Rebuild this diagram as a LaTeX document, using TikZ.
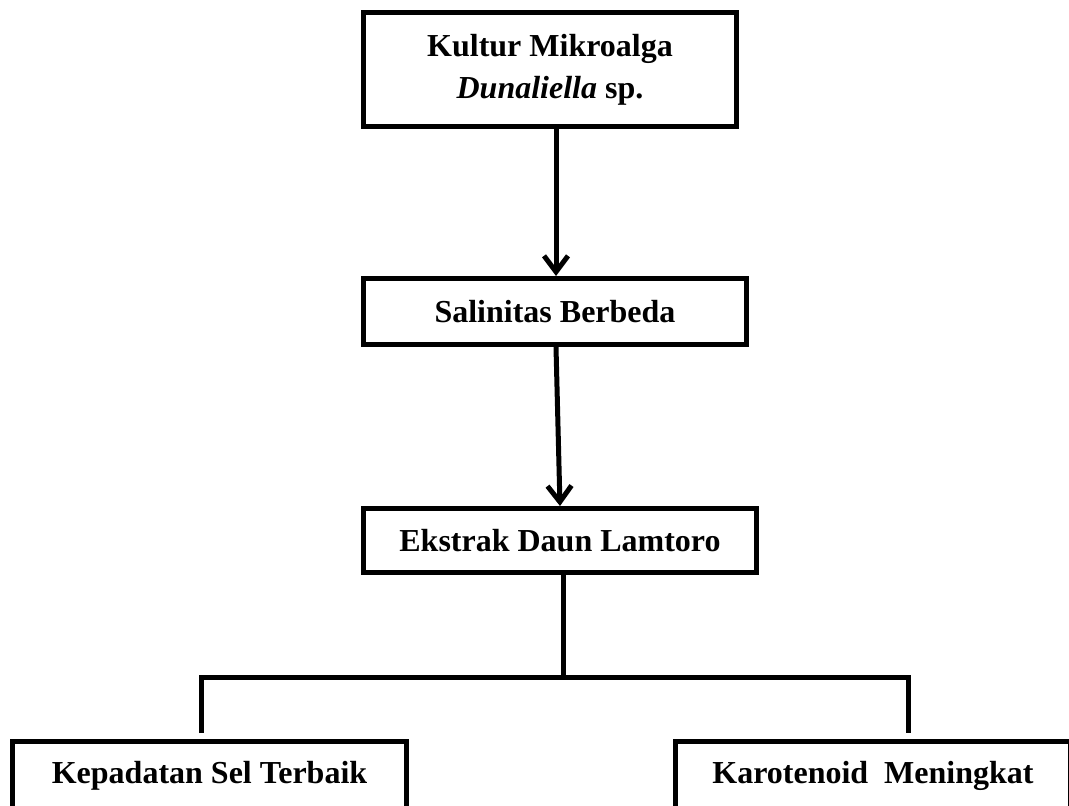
\documentclass[tikz,border=0pt]{standalone}
\usepackage{fontspec}
\setmainfont{Liberation Serif}
\usetikzlibrary{arrows.meta}
\begin{document}
\begin{tikzpicture}[x=1pt,y=-1pt,
  box/.style={draw=black, line width=5pt, fill=white, inner sep=0pt,
    font=\bfseries\fontsize{32}{42}\selectfont, align=center},
  conn/.style={draw=black, line width=5pt},
  arr/.style={conn, -{Straight Barb[length=16pt,width=24pt]}}]
\clip (0,0) rectangle (1069,806);
\fill[white] (0,0) rectangle (1069,806);
\node[box, minimum width=373pt, minimum height=114pt] (b1) at (550,69.5)
  {Kultur Mikroalga\\\textit{Dunaliella} sp.};
\node[box, minimum width=383pt, minimum height=66pt] (b2) at (555,311.5)
  {Salinitas Berbeda};
\node[box, minimum width=393pt, minimum height=64pt] (b3) at (560,540.5)
  {Ekstrak Daun Lamtoro};
\node[box, minimum width=394pt, minimum height=68pt] (k1) at (209.5,775.5)
  {Kepadatan Sel Terbaik};
\node[box, minimum width=395pt, minimum height=68pt] (k2) at (873,775.5)
  {Karotenoid~~Meningkat};
\coordinate (j) at (563,677);
\coordinate (jl) at (201,677);
\coordinate (jr) at (908,677);
\draw[arr] ([xshift=6pt]b1.south) -- ([xshift=1pt]b2.north);
\draw[arr] ([xshift=1pt]b2.south) -- (b3.north);
\draw[conn] ([xshift=3pt]b3.south) -- (j);
\draw[conn] ([yshift=6pt]jl |- k1.north) -- (jl) -- (jr) -- ([yshift=6pt]jr |- k2.north);
\end{tikzpicture}
\end{document}
